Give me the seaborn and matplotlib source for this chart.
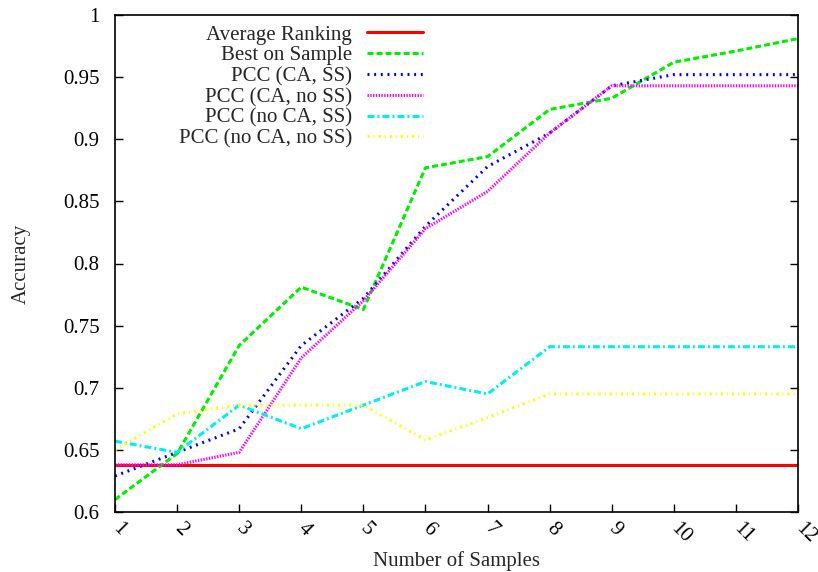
import numpy as np
import pandas as pd
import matplotlib
matplotlib.use("Agg")
import matplotlib.pyplot as plt
import seaborn as sns

samples = [1, 2, 3, 4, 5, 6, 7, 8, 9, 10, 11, 12]
avg_ranking = [0.638] * 12
best_on_sample = [0.610, 0.647, 0.734, 0.781, 0.763, 0.877, 0.886, 0.924, 0.933, 0.962, 0.971, 0.981]
pcc_ca_ss = [0.629, 0.648, 0.667, 0.734, 0.772, 0.830, 0.878, 0.905, 0.943, 0.952, 0.952, 0.952]
pcc_ca_noss = [0.638, 0.638, 0.648, 0.724, 0.770, 0.828, 0.858, 0.905, 0.943, 0.943, 0.943, 0.943]
pcc_noca_ss = [0.657, 0.648, 0.686, 0.667, 0.686, 0.705, 0.695, 0.733, 0.733, 0.733, 0.733, 0.733]
pcc_noca_noss = [0.650, 0.679, 0.686, 0.686, 0.686, 0.658, 0.676, 0.695, 0.695, 0.695, 0.695, 0.695]
labels = ["Average Ranking", "Best on Sample", "PCC (CA, SS)", "PCC (CA, no SS)",
          "PCC (no CA, SS)", "PCC (no CA, no SS)"]
yticks = [0.6, 0.65, 0.7, 0.75, 0.8, 0.85, 0.9, 0.95, 1.0]
ytick_labels = ["0.6", "0.65", "0.7", "0.75", "0.8", "0.85", "0.9", "0.95", "1"]

series = [avg_ranking, best_on_sample, pcc_ca_ss, pcc_ca_noss, pcc_noca_ss, pcc_noca_noss]
colors = ["#ff0000", "#00ee00", "#0000ee", "#ff00ff", "#00eeee", "#ffff00"]
styles = ["-", (0, (4.3, 2.2)), (0, (1.4, 3.4)), (0, (1.0, 1.0)),
          (0, (5.0, 2.2, 1.4, 2.2)), (0, (1.6, 2.8, 0.8, 2.8))]

sns.set_style("ticks")
plt.rcParams["font.family"] = ["Liberation Serif", "DejaVu Serif"]
plt.rcParams["lines.scale_dashes"] = False

FS = 15

fig = plt.figure(figsize=(8.18, 5.72), dpi=100)
ax = fig.add_axes([115 / 818, 1 - 512 / 572, (798 - 115) / 818, (512 - 15) / 572])

df = pd.DataFrame({"Samples": samples})
for lab, vals, c, ls in zip(labels, series, colors, styles):
    df[lab] = vals
    sns.lineplot(x="Samples", y=lab, data=df, ax=ax, color=c, linestyle=ls,
                 linewidth=2.2, label=lab, dash_capstyle="butt")

ax.set_xlim(1, 12)
ax.set_ylim(0.6, 1.0)
ax.set_xticks(samples)
ax.set_xticklabels([str(s) for s in samples], rotation=-45, ha="left", va="center",
                   rotation_mode="anchor", fontsize=FS)
ax.set_yticks(yticks)
ax.set_yticklabels(ytick_labels, fontsize=FS)
ax.tick_params(axis="both", direction="in", length=6, width=1, colors="black")
ax.tick_params(axis="y", right=True, pad=11)
ax.tick_params(axis="x", pad=10)
for s in ax.spines.values():
    s.set_visible(True)
    s.set_linewidth(1.2)
    s.set_color("black")

ax.set_xlabel("Number of Samples", fontsize=FS, labelpad=3)
ax.set_ylabel("Accuracy", fontsize=FS, labelpad=23)

leg = ax.legend(loc="upper right", bbox_to_anchor=(0.451, 0.98), markerfirst=False,
                frameon=False, fontsize=FS, handlelength=2.7, handletextpad=0.7,
                labelspacing=0.06, borderaxespad=0, borderpad=0)

fig.savefig("out.png", dpi=100)
